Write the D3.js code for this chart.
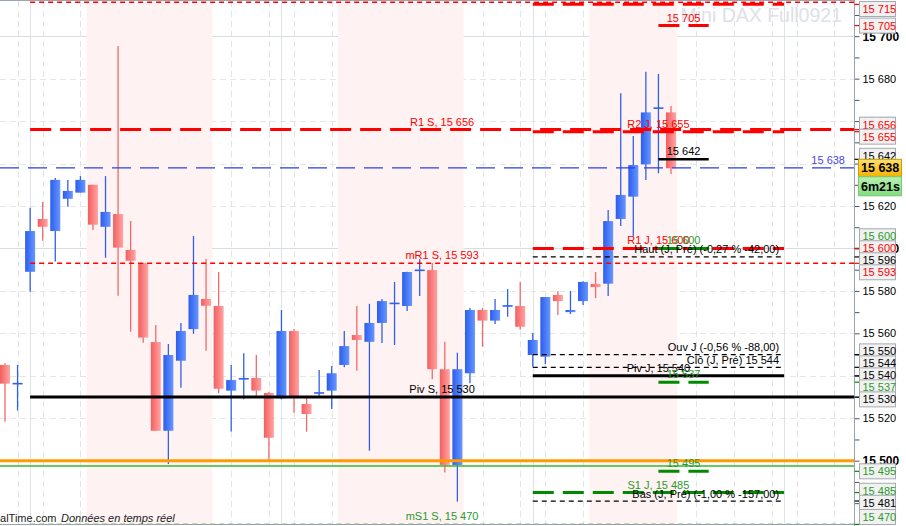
<!DOCTYPE html>
<html><head><meta charset="utf-8">
<script src="https://cdn.jsdelivr.net/npm/d3@7"></script>
<style>
html,body{margin:0;padding:0;background:#fff;overflow:hidden;}
svg{display:block;font-family:"Liberation Sans",Arial,sans-serif;}
</style></head><body>
<svg id="chart" width="906" height="526"></svg>
<script>
// ---------------- DATA ----------------
const candleOpen  = [15545.1,15536.0,15589.0,15613.9,15608.2,15623.4,15626.3,15630.0,15610.2,15616.2,
                     15599.3,15593.1,15555.9,15514.1,15547.1,15562.0,15576.2,15572.9,15533.0,15538.3,
                     15539.0,15531.9,15529.4,15561.1,15526.7,15531.6,15533.0,15545.1,15559.2,15556.0,
                     15564.9,15573.8,15572.9,15589.4,15589.8,15543.1,15498.0,15541.2,15571.0,15566.0,
                     15572.6,15572.9,15549.8,15549.0,15578.1,15570.0,15575.2,15583.3,15583.4,15613.9,
                     15624.4,15639.6,15665.9,15664.1];
const candleHigh  = [15545.9,15545.1,15619.2,15621.9,15633.2,15632.3,15634.1,15630.0,15634.1,15695.4,
                     15612.9,15593.1,15563.9,15555.0,15564.9,15605.9,15595.0,15588.9,15545.1,15550.6,
                     15549.8,15532.5,15571.0,15562.0,15530.0,15542.7,15544.6,15561.1,15572.9,15573.9,
                     15576.2,15584.2,15589.0,15594.9,15593.1,15556.1,15550.9,15572.0,15572.0,15576.2,
                     15580.9,15584.2,15560.2,15577.1,15580.0,15580.0,15584.5,15588.9,15618.1,15673.1,
                     15653.0,15683.3,15682.2,15667.1];
const candleLow   = [15518.4,15523.6,15579.6,15603.6,15593.8,15619.7,15626.3,15608.7,15595.6,15577.7,
                     15560.8,15555.6,15514.0,15498.4,15534.4,15559.8,15551.8,15531.8,15513.7,15528.9,
                     15530.6,15500.3,15528.9,15522.6,15513.7,15530.2,15524.4,15544.0,15542.4,15504.7,
                     15555.5,15554.5,15570.5,15577.6,15538.4,15494.4,15480.7,15536.5,15553.7,15564.4,
                     15567.8,15561.7,15544.3,15545.6,15568.6,15569.1,15573.4,15576.6,15577.6,15610.6,
                     15605.5,15632.3,15635.4,15635.1];
const candleClose = [15536.3,15536.3,15608.2,15610.2,15632.3,15627.1,15632.3,15611.2,15617.2,15600.4,
                     15594.2,15558.0,15514.1,15549.8,15561.1,15578.1,15573.0,15533.9,15538.0,15538.6,
                     15533.0,15510.8,15561.1,15530.1,15522.0,15531.9,15541.2,15554.0,15556.9,15564.9,
                     15575.2,15574.1,15588.9,15589.7,15543.1,15498.0,15543.1,15571.0,15566.0,15571.0,
                     15572.9,15563.1,15556.9,15577.1,15575.2,15571.0,15584.2,15581.8,15612.9,15625.2,
                     15639.3,15664.1,15666.1,15637.8];

// weekly (S) pivot levels
const weeklyNames  = ["", "R1 S", "mR1 S", "Piv S", "mS1 S"];
const weeklyValues = [15716, 15656, 15593, 15530, 15470];
const weeklyKinds  = ["mres", "res", "mres", "piv", "msup"];

// daily (J) pivot levels
const dailyNames  = ["R3 J", "R2 J", "R1 J", "Piv J", "S1 J"];
const dailyValues = [15715, 15655, 15600, 15540, 15485];
const dailyKinds  = ["res", "res", "res", "piv", "sup"];

// previous-day / day OHLC references
const refNames  = ["Haut (J, Pré) (-0,27 % -42,00)", "Ouv J (-0,56 % -88,00)", "Clô (J, Pré) 15 544", "Bas (J, Pré) (-1,00 % -157,00)"];
const refValues = [15596, 15550, 15544, 15481];

// short marks
const markValues = [15705, 15642, 15600, 15537, 15495];
const markKinds  = ["res", "last", "sup", "sup", "sup"];

// horizontal alert lines
const alertValues = [15500, 15497.5];
const alertKinds  = ["round", "alert"];

const lastPrice = 15638;
const countdown = "6m21s";
const instrument = "Mini DAX Full0921";

const priceTicks = [15500,15520,15540,15560,15580,15600,15620,15640,15660,15680,15700];
const minorPriceTicks = [15480,15490,15500,15510,15520,15530,15540,15550,15560,15570,15580,15590,15600,
                         15610,15620,15630,15640,15650,15660,15670,15680,15690,15700,15710];
const dayTicks = [2, 22, 42, 62];
const hourTicks = [1, 3, 6, 15, 18, 21, 23, 26, 35, 38, 41, 43, 46, 55, 58, 61, 63, 66];
const sessions = [[6.5, 16.5], [26.5, 36.5], [46.5, 53.5]];
const weekStart = 2, dayStart = 42, dayEnd = 62, markStart = 52, markEnd = 56;

// ---------------- LAYOUT ----------------
const plotR = 854, plotT = 1, plotB = 524;
const svg = d3.select("#chart");
const x = d3.scaleLinear().domain([0, 53]).range([5, 671]);
const y = d3.scaleLinear().domain([15500, 15700]).range([460.7, 36.2]);
const fmt = v => d3.format(",")(Math.round(v)).replace(/,/g, " ");

const RED = "#ff0000", GREEN = "#008a00", TXT_GREEN = "#2a9a2a", BLACK = "#000";

const defs = svg.append("defs");
defs.append("clipPath").attr("id", "pc").append("rect")
  .attr("x", 0).attr("y", plotT).attr("width", plotR).attr("height", plotB - plotT);
function grad(id, a, b) {
  const g = defs.append("linearGradient").attr("id", id).attr("x1", 0).attr("x2", 1).attr("y1", 0).attr("y2", 0);
  g.append("stop").attr("offset", 0).attr("stop-color", a);
  g.append("stop").attr("offset", 1).attr("stop-color", b);
}
grad("gRed", "#f45e5e", "#ffa4a4");
grad("gBlue", "#2b5ded", "#6797ff");
const gy = defs.append("linearGradient").attr("id", "gYel").attr("x1", 0).attr("x2", 0).attr("y1", 0).attr("y2", 1);
gy.append("stop").attr("offset", 0).attr("stop-color", "#ffe070");
gy.append("stop").attr("offset", 1).attr("stop-color", "#f2b300");
const gg = defs.append("linearGradient").attr("id", "gGrn").attr("x1", 0).attr("x2", 0).attr("y1", 0).attr("y2", 1);
gg.append("stop").attr("offset", 0).attr("stop-color", "#b8f2b0");
gg.append("stop").attr("offset", 1).attr("stop-color", "#82dc7c");

const plot = svg.append("g").attr("clip-path", "url(#pc)");

// grid
const gridG = plot.append("g");
gridG.selectAll("line.h").data(priceTicks).join("line")
  .attr("x1", 0).attr("x2", plotR).attr("y1", d => Math.round(y(d)) + 0.5).attr("y2", d => Math.round(y(d)) + 0.5)
  .attr("stroke", d => d % 100 === 0 ? "#d8dde5" : "#e6e6e6")
  .attr("stroke-dasharray", d => d % 100 === 0 ? null : "6,4");
gridG.selectAll("line.vm").data(hourTicks).join("line")
  .attr("x1", d => Math.round(x(d)) + 0.5).attr("x2", d => Math.round(x(d)) + 0.5)
  .attr("y1", plotT).attr("y2", plotB).attr("stroke", "#e3e3e3").attr("stroke-dasharray", "6,4");
gridG.selectAll("line.vd").data(dayTicks).join("line")
  .attr("x1", d => Math.round(x(d)) + 0.5).attr("x2", d => Math.round(x(d)) + 0.5)
  .attr("y1", plotT).attr("y2", plotB).attr("stroke", "#dde1e8");

// sessions shading
plot.append("g").selectAll("rect").data(sessions).join("rect")
  .attr("x", d => x(d[0])).attr("width", d => x(d[1]) - x(d[0]))
  .attr("y", plotT).attr("height", plotB - plotT).attr("fill", "#fff2f2");

// watermark
plot.append("text").attr("x", 842).attr("y", 22).attr("text-anchor", "end")
  .attr("font-size", 19.5).attr("fill", "#dde1e8").text(instrument);

// candles
const idx = d3.range(candleOpen.length);
const cg = plot.append("g");
const up = i => candleClose[i] >= candleOpen[i];
cg.selectAll("line.w").data(idx).join("line")
  .attr("x1", i => x(i)).attr("x2", i => x(i))
  .attr("y1", i => y(candleHigh[i])).attr("y2", i => y(candleLow[i]))
  .attr("stroke", i => up(i) ? "#2f60ec" : "#f46868").attr("stroke-width", 1.3);
const isDoji = i => Math.abs(y(candleOpen[i]) - y(candleClose[i])) < 1.5;
cg.selectAll("rect.b").data(idx.filter(i => !isDoji(i))).join("rect")
  .attr("x", i => x(i) - 5).attr("width", 10)
  .attr("y", i => y(Math.max(candleOpen[i], candleClose[i])))
  .attr("height", i => Math.abs(y(candleOpen[i]) - y(candleClose[i])))
  .attr("fill", i => up(i) ? "url(#gBlue)" : "url(#gRed)");
cg.selectAll("line.d").data(idx.filter(isDoji)).join("line")
  .attr("x1", i => x(i) - 5).attr("x2", i => x(i) + 5)
  .attr("y1", i => y(candleClose[i])).attr("y2", i => y(candleClose[i]))
  .attr("stroke", "#2f60ec").attr("stroke-width", 1.6);

// level styles
const styleOf = {
  res:  {stroke: RED,   w: 3,   dash: "21,9", txt: RED},
  mres: {stroke: RED,   w: 1.5, dash: "5,4",  txt: RED},
  piv:  {stroke: BLACK, w: 3,   dash: null,   txt: BLACK},
  sup:  {stroke: GREEN, w: 3,   dash: "21,9", txt: TXT_GREEN},
  msup: {stroke: GREEN, w: 1.5, dash: "5,4",  txt: TXT_GREEN},
  ref:  {stroke: BLACK, w: 1.3, dash: "5,4",  txt: BLACK},
  last: {stroke: BLACK, w: 2.5, dash: null,   txt: BLACK},
  round:{stroke: "#ff9a00", w: 3, dash: null},
  alert:{stroke: "#33b833", w: 1.5, dash: null}
};
const linesG = plot.append("g");
function hline(v, x1, x2, kind) {
  const s = styleOf[kind];
  linesG.append("line").attr("x1", x1).attr("x2", x2).attr("y1", y(v)).attr("y2", y(v))
    .attr("stroke", s.stroke).attr("stroke-width", s.w).attr("stroke-dasharray", s.dash);
}
alertValues.forEach((v, i) => hline(v, 0, plotR, alertKinds[i]));
weeklyValues.forEach((v, i) => hline(v, x(weekStart), plotR, weeklyKinds[i]));
dailyValues.forEach((v, i) => hline(v, x(dayStart), x(dayEnd), dailyKinds[i]));
refValues.forEach(v => hline(v, x(dayStart), x(dayEnd), "ref"));
markValues.forEach((v, i) => hline(v, x(markStart), x(markEnd), markKinds[i]));
// last price line
linesG.append("line").attr("x1", 0).attr("x2", plotR).attr("y1", y(lastPrice)).attr("y2", y(lastPrice))
  .attr("stroke", "#2b3fe3").attr("stroke-width", 1.3).attr("stroke-dasharray", "19,9");

// level labels
const labG = svg.append("g").attr("font-size", 11);
const wMid = (x(weekStart) + plotR) / 2, dMid = (x(dayStart) + x(dayEnd)) / 2, mMid = x((markStart + markEnd) / 2);
weeklyValues.forEach((v, i) => {
  if (!weeklyNames[i]) return;
  labG.append("text").attr("x", wMid).attr("y", y(v) - 4).attr("text-anchor", "middle")
    .attr("fill", styleOf[weeklyKinds[i]].txt).text(weeklyNames[i] + ", " + fmt(v));
});
dailyValues.forEach((v, i) => {
  labG.append("text").attr("x", dMid).attr("y", y(v) - 4).attr("text-anchor", "middle")
    .attr("fill", styleOf[dailyKinds[i]].txt).text(dailyNames[i] + ", " + fmt(v));
});
refValues.forEach((v, i) => {
  labG.append("text").attr("x", x(dayEnd) - 5).attr("y", y(v) - 3.5).attr("text-anchor", "end")
    .attr("fill", BLACK).text(refNames[i]);
});
markValues.forEach((v, i) => {
  labG.append("text").attr("x", mMid).attr("y", y(v) - 4).attr("text-anchor", "middle")
    .attr("fill", styleOf[markKinds[i]].txt).text(fmt(v));
});
labG.append("text").attr("x", 845).attr("y", y(lastPrice) - 4).attr("text-anchor", "end")
  .attr("fill", "#4a45e2").text(fmt(lastPrice));

// footer text
svg.append("text").attr("x", 56.5).attr("y", 521.5).attr("font-size", 11).attr("fill", "#222")
  .attr("text-anchor", "end").text("ProRealTime.com");
svg.append("text").attr("x", 61).attr("y", 521.5).attr("font-size", 11).attr("fill", "#222")
  .attr("font-style", "italic").text("Données en temps réel");

// frame
svg.append("line").attr("x1", 0).attr("x2", plotR).attr("y1", 0.5).attr("y2", 0.5).attr("stroke", "#9aa4ae");
svg.append("line").attr("x1", 0).attr("x2", plotR).attr("y1", plotB + 0.5).attr("y2", plotB + 0.5).attr("stroke", "#9aa4ae");

// right axis
const axis = d3.axisRight(y).tickValues(minorPriceTicks).tickSize(5).tickPadding(3)
  .tickFormat(d => d % 20 === 0 ? fmt(d) : "");
const ag = svg.append("g").attr("transform", `translate(${plotR + 0.5},0)`).call(axis);
ag.select(".domain").remove();
ag.selectAll(".tick line").attr("stroke", "#555");
ag.selectAll(".tick text").attr("font-size", d => d % 100 === 0 ? 12 : 11)
  .attr("font-weight", d => d % 100 === 0 ? "bold" : "normal")
  .attr("fill", "#000").attr("font-family", '"Liberation Sans",Arial,sans-serif');
svg.append("line").attr("x1", plotR + 0.5).attr("x2", plotR + 0.5).attr("y1", 0).attr("y2", 526).attr("stroke", "#9aa4ae");

// right-axis tags with collision avoidance
const tags = [];
markValues.forEach((v, i) => tags.push({v, color: styleOf[markKinds[i]].txt, tick: styleOf[markKinds[i]].stroke}));
dailyValues.forEach((v, i) => tags.push({v, color: styleOf[dailyKinds[i]].txt, tick: styleOf[dailyKinds[i]].stroke}));
weeklyValues.forEach((v, i) => { if (weeklyNames[i]) tags.push({v, color: styleOf[weeklyKinds[i]].txt, tick: styleOf[weeklyKinds[i]].stroke}); });
refValues.forEach(v => tags.push({v, color: BLACK, tick: BLACK}));
tags.forEach(t => { t.y0 = y(t.v); t.w = 1; });
const cur = {v: lastPrice, y0: y(lastPrice), w: 1000, current: true};
const all = tags.concat([cur]);
function dodge(items, gap, lo, hi) {
  const s = items.slice().sort((a, b) => a.y0 - b.y0);
  const cl = [];
  const place = c => {
    let sw = 0, sum = 0;
    c.items.forEach((it, k) => { sum += it.w * (it.y0 - k * gap); sw += it.w; });
    c.top = Math.max(lo, Math.min(hi - (c.items.length - 1) * gap, sum / sw));
  };
  s.forEach(it => {
    const c = {items: [it]}; place(c); cl.push(c);
    while (cl.length > 1) {
      const b = cl[cl.length - 1], a = cl[cl.length - 2];
      if (a.top + a.items.length * gap > b.top) { a.items = a.items.concat(b.items); cl.pop(); place(a); }
      else break;
    }
  });
  cl.forEach(c => c.items.forEach((it, k) => it.y = c.top + k * gap));
  return s;
}
const placed = dodge(all, 12, plotT + 8, plotB - 7);
const tg = svg.append("g").attr("font-size", 11);
placed.filter(t => !t.current).forEach(t => {
  tg.append("line").attr("x1", plotR + 0.5).attr("x2", 859).attr("y1", t.y0).attr("y2", t.y0)
    .attr("stroke", t.tick).attr("stroke-width", 1.2);
  tg.append("rect").attr("x", 859.5).attr("y", t.y - 7.5).attr("width", 36).attr("height", 15)
    .attr("fill", "#f1f1f1").attr("stroke", "#a4abb3");
  tg.append("text").attr("x", 862.5).attr("y", t.y + 4).attr("fill", t.color).text(fmt(t.v));
});
// current price + countdown
tg.append("rect").attr("x", 858.5).attr("y", cur.y - 8.5).attr("width", 43).attr("height", 17.5)
  .attr("fill", "url(#gYel)").attr("stroke", "#c9a000");
tg.append("text").attr("x", 861).attr("y", cur.y + 4.5).attr("font-size", 12.5).attr("font-weight", "bold")
  .attr("fill", "#000").text(fmt(lastPrice));
tg.append("rect").attr("x", 858.5).attr("y", cur.y + 9).attr("width", 43).attr("height", 19)
  .attr("fill", "url(#gGrn)").attr("stroke", "#7bc776");
tg.append("text").attr("x", 861).attr("y", cur.y + 23).attr("font-size", 12.5).attr("font-weight", "bold")
  .attr("fill", "#000").text(countdown);
</script></body></html>
